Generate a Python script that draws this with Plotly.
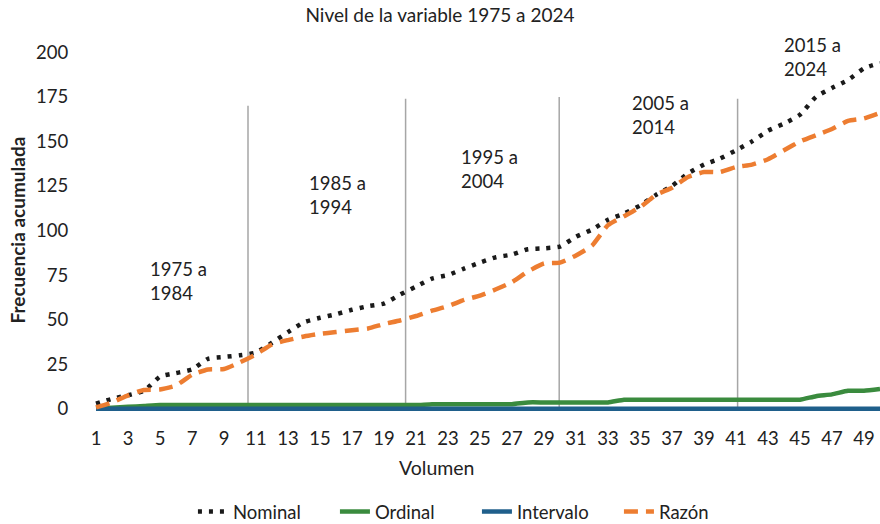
import plotly.graph_objects as go

# Categories (volumen) and cumulative frequencies
volumen = list(range(1, 51))

nominal = [2.8, 5.5, 7.5, 10, 18, 20, 22, 28, 29, 30,
           31.5, 37, 43, 48.5, 51, 53, 55.5, 57.5, 59, 64,
           68.5, 73, 75, 78.6, 82, 85, 86.5, 89.5, 90, 91,
           96.5, 100.5, 106, 109.5, 114, 120, 125, 132, 137, 140.4,
           145, 150, 156, 160, 165, 175, 180, 184.5, 191, 194]

ordinal = [0, 0.5, 1, 1.5, 2, 2, 2, 2, 2, 2,
           2, 2, 2, 2, 2, 2, 2, 2, 2, 2,
           2, 2.5, 2.5, 2.5, 2.5, 2.5, 2.5, 3.5, 3.5, 3.5,
           3.5, 3.5, 3.5, 5, 5, 5, 5, 5, 5, 5,
           5, 5, 5, 5, 5, 7, 8, 10, 10, 11]

intervalo = [0] * 50

razon = [0.7, 3.5, 7.5, 10.5, 10.8, 13, 19, 22, 22.3, 26,
         30.5, 36, 38.5, 40.5, 42, 43, 44, 45, 47.5, 49.5,
         52, 55, 57.5, 61, 63.5, 67, 71, 77, 81.5, 82,
         86, 91.5, 103, 108, 113, 120, 124, 130, 132.8, 132.8,
         135.6, 137, 140, 145, 150, 153.5, 157, 161.5, 162.9, 166]

x_ticks = list(range(1, 50, 2))
y_ticks = [0, 25, 50, 75, 100, 125, 150, 175, 200]

# Decade dividers and labels
divisores_x = [10.5, 20.35, 29.95, 41.1]
divisores_top = [170, 174, 175, 174]
periodos = ['1975 a<br>1984', '1985 a<br>1994', '1995 a<br>2004',
            '2005 a<br>2014', '2015 a<br>2024']
periodos_x = [4.25, 14.2, 23.7, 34.4, 43.9]
periodos_y = [71.6, 119.7, 134.3, 164.6, 197.2]

FONT = 'Lato, sans-serif'
TEXT = '#222222'

fig = go.Figure()
fig.add_trace(go.Scatter(
    x=volumen, y=nominal, mode='lines', name='Nominal',
    line=dict(color='#1a1a1a', width=4.5, dash='4px,7px', shape='spline', smoothing=0.5)
))
fig.add_trace(go.Scatter(
    x=volumen, y=ordinal, mode='lines', name='Ordinal',
    line=dict(color='#3A8B3E', width=4.5, shape='spline', smoothing=0.5)
))
fig.add_trace(go.Scatter(
    x=volumen, y=intervalo, mode='lines', name='Intervalo',
    line=dict(color='#1F5F8B', width=4.5)
))
fig.add_trace(go.Scatter(
    x=volumen, y=razon, mode='lines', name='Razón',
    line=dict(color='#ED7D31', width=4.5, dash='14px,8px', shape='spline', smoothing=0.5)
))

for xv, top in zip(divisores_x, divisores_top):
    fig.add_shape(type='line', xref='x', yref='y', x0=xv, x1=xv, y0=0, y1=top,
                  line=dict(color='#A6A6A6', width=1.5), layer='below')

for txt, xv, yv in zip(periodos, periodos_x, periodos_y):
    fig.add_annotation(x=xv, y=yv, xref='x', yref='y', text=txt, showarrow=False,
                       xanchor='left', yanchor='middle', align='left',
                       font=dict(size=18.5, color=TEXT, family=FONT))

fig.add_annotation(x=-0.0896, y=0.5, xref='paper', yref='paper', text='<b>Frecuencia acumulada</b>',
                   textangle=-90, showarrow=False, xanchor='center', yanchor='middle',
                   font=dict(size=19, color=TEXT, family=FONT))
fig.add_annotation(x=0.44, y=-0.147, xref='paper', yref='paper', text='Volumen',
                   showarrow=False, xanchor='center', yanchor='middle',
                   font=dict(size=19.5, color=TEXT, family=FONT))

fig.update_layout(
    width=880, height=524,
    paper_bgcolor='white', plot_bgcolor='white',
    font=dict(family=FONT, size=18.5, color=TEXT),
    margin=dict(l=88, r=0, t=47, b=110, autoexpand=False),
    title=dict(text='Nivel de la variable 1975 a 2024', x=0.5, xanchor='center',
               y=1 - 15 / 524, yanchor='middle', font=dict(size=19, color=TEXT, family=FONT)),
    showlegend=True,
    legend=dict(orientation='h', x=0.1325, xanchor='left', y=-0.267, yanchor='middle',
                font=dict(size=18.5, color=TEXT, family=FONT), entrywidth=97,
                entrywidthmode='pixels'),
    xaxis=dict(range=[0.5, 50.0], tickvals=x_ticks, showgrid=False, zeroline=False,
               showline=False, ticks='outside', ticklen=8, tickcolor='rgba(0,0,0,0)',
               tickfont=dict(size=18.5), automargin=False),
    yaxis=dict(range=[-3, 203], tickvals=y_ticks, showgrid=False, zeroline=False,
               showline=False, ticks='outside', ticklen=15, tickcolor='rgba(0,0,0,0)',
               tickfont=dict(size=18.5), automargin=False),
)

# drop the default 8px body margin so the 880x524 figure fills the window exactly
fig.write_html('out.html', config={'displayModeBar': False},
               post_script="document.body.style.margin='0';")
